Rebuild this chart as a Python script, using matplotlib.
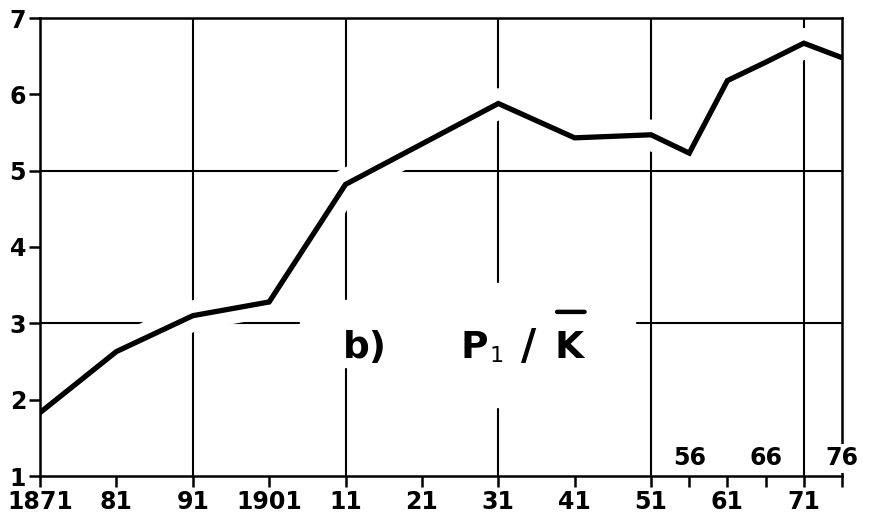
import matplotlib.pyplot as plt
from matplotlib.patches import Rectangle

# Series
years = [1871, 1881, 1891, 1901, 1911, 1921, 1931, 1941, 1951, 1956, 1961, 1966, 1971, 1976]
ratio = [1.83, 2.63, 3.10, 3.28, 4.82, 5.35, 5.88, 5.43, 5.47, 5.23, 6.18, 6.42, 6.67, 6.48]

# Axis ticks / labels
xticks = [1871, 1881, 1891, 1901, 1911, 1921, 1931, 1941, 1951, 1961, 1971, 1976]
xlabels = ['1871', '81', '91', '1901', '11', '21', '31', '41', '51', '61', '71', '']
xminor = [1956, 1966]
upper_ticks = [1956, 1966, 1976]
upper_labels = ['56', '66', '76']
yticks = [1, 2, 3, 4, 5, 6, 7]
grid_years = [1891, 1911, 1931, 1951, 1971]
grid_vals = [3, 5]

plt.rcParams['font.family'] = 'DejaVu Sans'

fig = plt.figure(figsize=(8.69, 5.17), dpi=100)
ax = fig.add_axes([40 / 869, 41 / 517, 802 / 869, 458 / 517])
ax.set_xlim(1871, 1976)
ax.set_ylim(1, 7)

# grid lines (drawn manually, not on every tick)
for g in grid_years:
    ax.axvline(g, color='black', lw=1.5, zorder=0.5)
for g in grid_vals:
    ax.axhline(g, color='black', lw=1.5, zorder=0.5)

# white halo breaks the grid around the curve, like the print
ax.plot(years, ratio, color='white', lw=22, solid_capstyle='butt', zorder=1)
ax.plot(years, ratio, color='black', lw=3.8, solid_joinstyle='miter', zorder=3)

# blank area behind the title
ax.add_patch(Rectangle((1905.0, 2.43), 15.7, 0.88, color='white', zorder=1))
ax.add_patch(Rectangle((1920.7, 1.90), 28.2, 1.63, color='white', zorder=1))

ax.text(1910.6, 2.55, 'b)', fontsize=27, fontweight='bold', zorder=4)
ax.text(1926.0, 2.55, 'P', fontsize=27, fontweight='bold', zorder=4)
ax.text(1929.8, 2.49, '1', fontsize=16, zorder=4)
ax.text(1934.0, 2.53, '/', fontsize=30, fontweight='bold', zorder=4)
ax.text(1938.4, 2.55, 'K', fontsize=27, fontweight='bold', zorder=4)
ax.annotate('', xy=(1938.7, 3.15), xytext=(1942.3, 3.15),
            arrowprops=dict(arrowstyle='-', lw=3.2, color='black',
                            shrinkA=0, shrinkB=0), zorder=4)

# ticks
ax.set_xticks(xticks)
ax.set_xticklabels(xlabels)
ax.set_xticks(xminor, minor=True)
ax.set_yticks(yticks)
ax.tick_params(axis='both', which='both', direction='out', length=8, width=1.8,
               labelsize=17, pad=2, color='black')
for lab in ax.get_xticklabels() + ax.get_yticklabels():
    lab.set_fontweight('bold')

for x, lab in zip(upper_ticks, upper_labels):
    ax.annotate(lab, (x, 1), xytext=(0, 4), textcoords='offset points',
                ha='center', va='bottom', fontsize=17, fontweight='bold',
                bbox=dict(facecolor='white', edgecolor='none', pad=1.5), zorder=4)

for s in ax.spines.values():
    s.set_linewidth(1.8)
    s.set_zorder(2.5)

fig.savefig('out.png', dpi=100)
